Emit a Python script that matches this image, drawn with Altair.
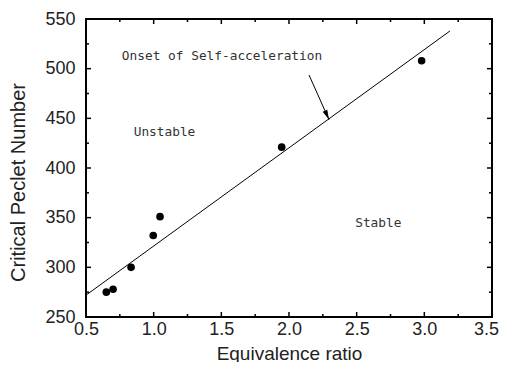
import altair as alt
import pandas as pd

# data
phi = [0.65, 0.70, 0.833, 0.997, 1.047, 1.946, 2.98]
pe = [275, 278, 300, 332, 351, 421, 508]

fit_x = [0.5, 3.19]
fit_y = [272, 538]

arrow_x = [2.148, 2.296]
arrow_y = [493.6, 448.5]

notes_text = ["Onset of Self-acceleration", "Unstable", "Stable"]
notes_x = [1.505, 1.08, 2.66]
notes_y = [512.7, 436.5, 344.5]

x_major = [0.5, 1.0, 1.5, 2.0, 2.5, 3.0, 3.5]
x_minor = [0.75, 1.25, 1.75, 2.25, 2.75, 3.25]
y_major = [250, 300, 350, 400, 450, 500, 550]
y_minor = [275, 325, 375, 425, 475, 525]

W, H = 406, 298
FONT = "Liberation Sans"

xs = alt.Scale(domain=[0.5, 3.5], nice=False, zero=False)
ys = alt.Scale(domain=[250, 550], nice=False, zero=False)

pts = pd.DataFrame({"phi": phi, "pe": pe})
fit = pd.DataFrame({"x": fit_x, "y": fit_y})
arr = pd.DataFrame({"x": arrow_x, "y": arrow_y})
tip = pd.DataFrame({"x": [arrow_x[1]], "y": [arrow_y[1]]})
notes = pd.DataFrame({"t": notes_text, "x": notes_x, "y": notes_y})

xaxis = alt.Axis(values=x_major, format=".1f", ticks=False, tickSize=0, domain=False, grid=False,
                 labelFlush=False,
                 labelOffset={"expr": "datum.value >= 3.5 ? -6 : 0"},
                 labelFont=FONT, labelFontSize=18, labelColor="#222", labelPadding=3,
                 title="Equivalence ratio", titleFont=FONT, titleFontSize=19,
                 titleFontWeight="normal", titleColor="#222", titlePadding=6)
yaxis = alt.Axis(values=y_major, format="d", ticks=False, tickSize=0, domain=False, grid=False,
                 labelFlush=False,
                 labelFont=FONT, labelFontSize=18, labelColor="#222", labelPadding=11,
                 title="Critical Peclet Number", titleFont=FONT, titleFontSize=20,
                 titleFontWeight="normal", titleColor="#222",
                 titleX=-58, titleY=163)

points = alt.Chart(pts).mark_circle(color="black", opacity=1, size=58).encode(
    x=alt.X("phi:Q", scale=xs, axis=xaxis),
    y=alt.Y("pe:Q", scale=ys, axis=yaxis),
)

line = alt.Chart(fit).mark_line(color="black", strokeWidth=1).encode(
    x=alt.X("x:Q", scale=xs), y=alt.Y("y:Q", scale=ys))

arrow_line = alt.Chart(arr).mark_line(color="black", strokeWidth=1).encode(
    x=alt.X("x:Q", scale=xs), y=alt.Y("y:Q", scale=ys))

arrow_head = alt.Chart(tip).mark_point(
    shape="M0,0 L-0.5,-2 L0.5,-2 Z", filled=True, color="black", opacity=1,
    size=100, angle=336, strokeWidth=0).encode(
    x=alt.X("x:Q", scale=xs), y=alt.Y("y:Q", scale=ys))

texts = alt.Chart(notes).mark_text(font="DejaVu Sans Mono", fontSize=12.8, color="#333",
                                   baseline="middle", align="center").encode(
    x=alt.X("x:Q", scale=xs), y=alt.Y("y:Q", scale=ys), text="t:N")

def xticks(vals, length):
    df = pd.DataFrame({"v": vals})
    b = alt.Chart(df).mark_rule(color="black", strokeWidth=1.5).encode(
        x=alt.X("v:Q", scale=xs), y=alt.value(H), y2=alt.value(H - length))
    t = alt.Chart(df).mark_rule(color="black", strokeWidth=1.5).encode(
        x=alt.X("v:Q", scale=xs), y=alt.value(0), y2=alt.value(length))
    return [b, t]

def yticks(vals, length):
    df = pd.DataFrame({"v": vals})
    l = alt.Chart(df).mark_rule(color="black", strokeWidth=1.5).encode(
        y=alt.Y("v:Q", scale=ys), x=alt.value(0), x2=alt.value(length))
    r = alt.Chart(df).mark_rule(color="black", strokeWidth=1.5).encode(
        y=alt.Y("v:Q", scale=ys), x=alt.value(W), x2=alt.value(W - length))
    return [l, r]

layers = [points, line, arrow_line, arrow_head, texts]
layers += xticks(x_major, 5) + xticks(x_minor, 3) + yticks(y_major, 5) + yticks(y_minor, 3)

chart = alt.layer(*layers).properties(
    width=W, height=H,
    autosize=alt.AutoSizeParams(type="none"),
    padding={"left": 78, "top": 11, "right": 7, "bottom": 45},
    background="white",
).configure_view(stroke="black", strokeWidth=2)

chart.save("out.html", embed_options={"renderer": "svg", "actions": False})
